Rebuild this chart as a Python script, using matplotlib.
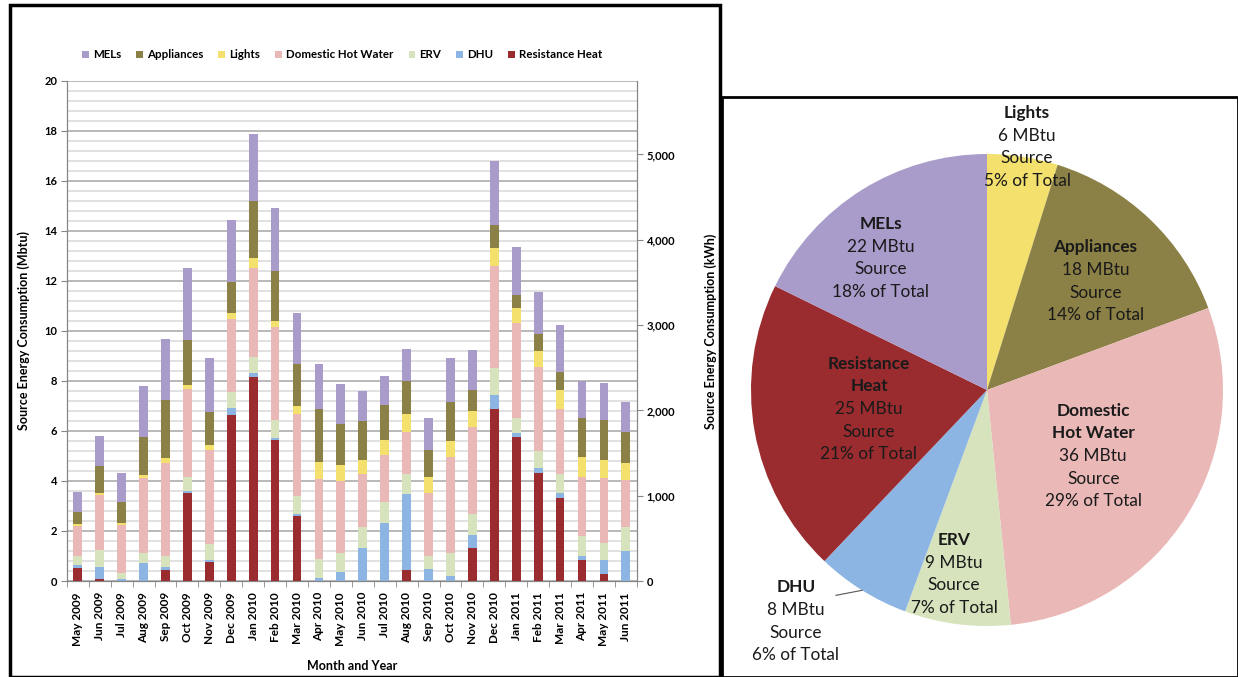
import numpy as np
import matplotlib.pyplot as plt
from matplotlib.patches import Rectangle
from matplotlib.ticker import FuncFormatter, MultipleLocator

plt.rcParams.update({
    "font.family": ["Lato", "DejaVu Sans"],
    "font.weight": "bold",
    "axes.labelweight": "bold",
    "axes.unicode_minus": False,
})

# Monthly source energy by end use (MBtu)
months = ["May 2009", "Jun 2009", "Jul 2009", "Aug 2009", "Sep 2009", "Oct 2009",
          "Nov 2009", "Dec 2009", "Jan 2010", "Feb 2010", "Mar 2010", "Apr 2010",
          "May 2010", "Jun 2010", "Jul 2010", "Aug 2010", "Sep 2010", "Oct 2010",
          "Nov 2010", "Dec 2010", "Jan 2011", "Feb 2011", "Mar 2011", "Apr 2011",
          "May 2011", "Jun 2011"]

resistance_heat = [0.53, 0.07, 0.02, 0.00, 0.44, 3.50, 0.77, 6.64, 8.17, 5.64, 2.60, 0.00, 0.00,
                   0.00, 0.00, 0.44, 0.00, 0.00, 1.33, 6.87, 5.77, 4.31, 3.33, 0.84, 0.28, 0.00]
dhu = [0.10, 0.50, 0.08, 0.73, 0.13, 0.11, 0.07, 0.27, 0.14, 0.07, 0.07, 0.13, 0.36,
       1.33, 2.33, 3.04, 0.47, 0.20, 0.51, 0.57, 0.14, 0.22, 0.18, 0.16, 0.56, 1.20]
erv = [0.37, 0.67, 0.23, 0.40, 0.43, 0.54, 0.64, 0.66, 0.66, 0.73, 0.73, 0.74, 0.77,
       0.84, 0.84, 0.80, 0.53, 0.90, 0.84, 1.07, 0.62, 0.67, 0.77, 0.80, 0.67, 0.97]
hot_water = [1.20, 2.20, 1.91, 2.97, 3.73, 3.52, 3.76, 2.90, 3.54, 3.71, 3.27, 3.20, 2.87,
             2.11, 1.87, 1.69, 2.53, 3.85, 3.47, 4.10, 3.80, 3.35, 2.59, 2.35, 2.62, 1.87]
lights = [0.07, 0.09, 0.06, 0.14, 0.17, 0.17, 0.20, 0.26, 0.42, 0.26, 0.33, 0.70, 0.64,
          0.56, 0.60, 0.71, 0.64, 0.66, 0.65, 0.72, 0.60, 0.65, 0.77, 0.82, 0.71, 0.69]
appliances = [0.50, 1.07, 0.87, 1.53, 2.34, 1.80, 1.33, 1.24, 2.27, 1.99, 1.68, 2.12, 1.64,
              1.57, 1.40, 1.32, 1.07, 1.56, 0.84, 0.91, 0.51, 0.68, 0.73, 1.56, 1.60, 1.22]
mels = [0.80, 1.20, 1.13, 2.03, 2.43, 2.89, 2.16, 2.47, 2.67, 2.51, 2.03, 1.78, 1.59,
        1.20, 1.17, 1.27, 1.29, 1.76, 1.60, 2.57, 1.93, 1.67, 1.87, 1.47, 1.47, 1.22]

# Annual totals by end use
pie_names = ["Lights", "Appliances", "Domestic Hot Water", "ERV", "DHU", "Resistance Heat", "MELs"]
pie_labels = ["Lights", "Appliances", "Domestic\nHot Water", "ERV", "DHU", "Resistance\nHeat", "MELs"]
pie_mbtu = [6, 18, 36, 9, 8, 25, 22]
pie_pct = [5, 14, 29, 7, 6, 21, 18]

KWH_PER_MBTU = 293.07

colors = {
    "Resistance Heat": "#9a2b2e",
    "DHU": "#8db5e3",
    "ERV": "#d6e3bc",
    "Domestic Hot Water": "#e9b8b7",
    "Lights": "#f3e06d",
    "Appliances": "#8b8045",
    "MELs": "#a99bca",
}

# bottom to top
stack = [
    ("Resistance Heat", resistance_heat),
    ("DHU", dhu),
    ("ERV", erv),
    ("Domestic Hot Water", hot_water),
    ("Lights", lights),
    ("Appliances", appliances),
    ("MELs", mels),
]

fig = plt.figure(figsize=(12.38, 6.77), dpi=100)

# ---- stacked monthly bars ----
ax = fig.add_axes([0.054, 0.1418, 0.4604, 0.7386])
x = np.arange(len(months))
bottom = np.zeros(len(months))
handles = []
for name, vals in stack:
    b = ax.bar(x, vals, 0.4, bottom=bottom, color=colors[name], linewidth=0,
               label=name, zorder=3)
    handles.append(b)
    bottom += np.array(vals)

ax.set_xlim(-0.5, len(months) - 0.5)
ax.set_ylim(0, 20)
ax.yaxis.set_major_locator(MultipleLocator(2))
ax.yaxis.set_minor_locator(MultipleLocator(0.4))
ax.grid(axis="y", which="minor", color="#d9d9d9", lw=1.1)
ax.grid(axis="y", which="major", color="#a6a6a6", lw=1.1)
ax.set_axisbelow(True)
ax.tick_params(axis="y", which="minor", length=0)
ax.tick_params(axis="y", which="major", length=4, color="#868686", labelsize=8, pad=3)
ax.set_xticks(x)
ax.set_xticklabels(months, rotation=90, fontsize=8.5)
ax.set_xticks(np.arange(-0.5, len(months), 1), minor=True)
ax.tick_params(axis="x", which="major", length=0, pad=8)
ax.tick_params(axis="x", which="minor", length=4, color="#868686")
for s in ("left", "bottom", "right"):
    ax.spines[s].set_color("#868686")
ax.spines["top"].set_visible(False)

ax.set_ylabel("Source Energy Consumption (Mbtu)", fontsize=9)
ax.yaxis.set_label_coords(-0.065, 0.5)
ax.set_xlabel("Month and Year", fontsize=9)
ax.xaxis.set_label_coords(0.5, -0.158)

# kWh scale on the right
ax2 = ax.twinx()
ax2.set_ylim(0, 20 * KWH_PER_MBTU)
ax2.set_yticks(range(0, 6000, 1000))
ax2.yaxis.set_major_formatter(FuncFormatter(lambda v, p: f"{int(v):,}"))
ax2.tick_params(axis="y", length=4, color="#868686", labelsize=8, pad=3)
for s in ("left", "bottom", "right"):
    ax2.spines[s].set_color("#868686")
ax2.spines["top"].set_visible(False)
ax2.set_ylabel("Source Energy Consumption (kWh)", fontsize=9)
ax2.yaxis.set_label_coords(1.119, 0.5)

fig.legend(handles[::-1], [h.get_label() for h in handles[::-1]],
           loc="center", bbox_to_anchor=(0.2765, 0.919), ncol=7, frameon=False,
           fontsize=8.3, handlelength=0.6, handleheight=0.6, handletextpad=0.35,
           columnspacing=1.3)

# ---- annual pie ----
pax = fig.add_axes([0.6066, 0.0753, 0.3813, 0.6972])
wedges, _ = pax.pie(pie_mbtu, colors=[colors[n] for n in pie_names],
                    startangle=90, counterclock=False, wedgeprops=dict(linewidth=0))
pax.set_xlim(-1, 1)
pax.set_ylim(-1, 1)
pax.set_aspect("equal")

label_pos = [(0.17, 1.03), (0.46, 0.46), (0.45, -0.28), (-0.14, -0.78),
             (-0.81, -0.98), (-0.50, -0.08), (-0.45, 0.56)]
dy = 0.096
for label, mbtu, pct, (lx, ly) in zip(pie_labels, pie_mbtu, pie_pct, label_pos):
    lines = [(t, "bold") for t in label.split("\n")]
    lines += [(f"{mbtu} MBtu", "normal"), ("Source", "normal"), (f"{pct}% of Total", "normal")]
    top = ly + (len(lines) - 1) / 2 * dy
    for i, (t, w) in enumerate(lines):
        pax.text(lx, top - i * dy, t, ha="center", va="center", fontsize=12.4,
                 fontweight=w, color="#1a1a1a", clip_on=False)

# leader line for the small DHU slice
w = wedges[pie_names.index("DHU")]
ang = np.deg2rad((w.theta1 + w.theta2) / 2)
pax.plot([-0.64, np.cos(ang)], [-0.87, np.sin(ang)], color="#555555", lw=0.8, clip_on=False)

# panel frames
fig.add_artist(Rectangle((10 / 1238, 0), 710 / 1238, 672 / 677, transform=fig.transFigure,
                         fill=False, ec="black", lw=2.5))
fig.add_artist(Rectangle((722 / 1238, 0), 516 / 1238, 580 / 677, transform=fig.transFigure,
                         fill=False, ec="black", lw=2.0))

fig.savefig("out.png", dpi=100)
